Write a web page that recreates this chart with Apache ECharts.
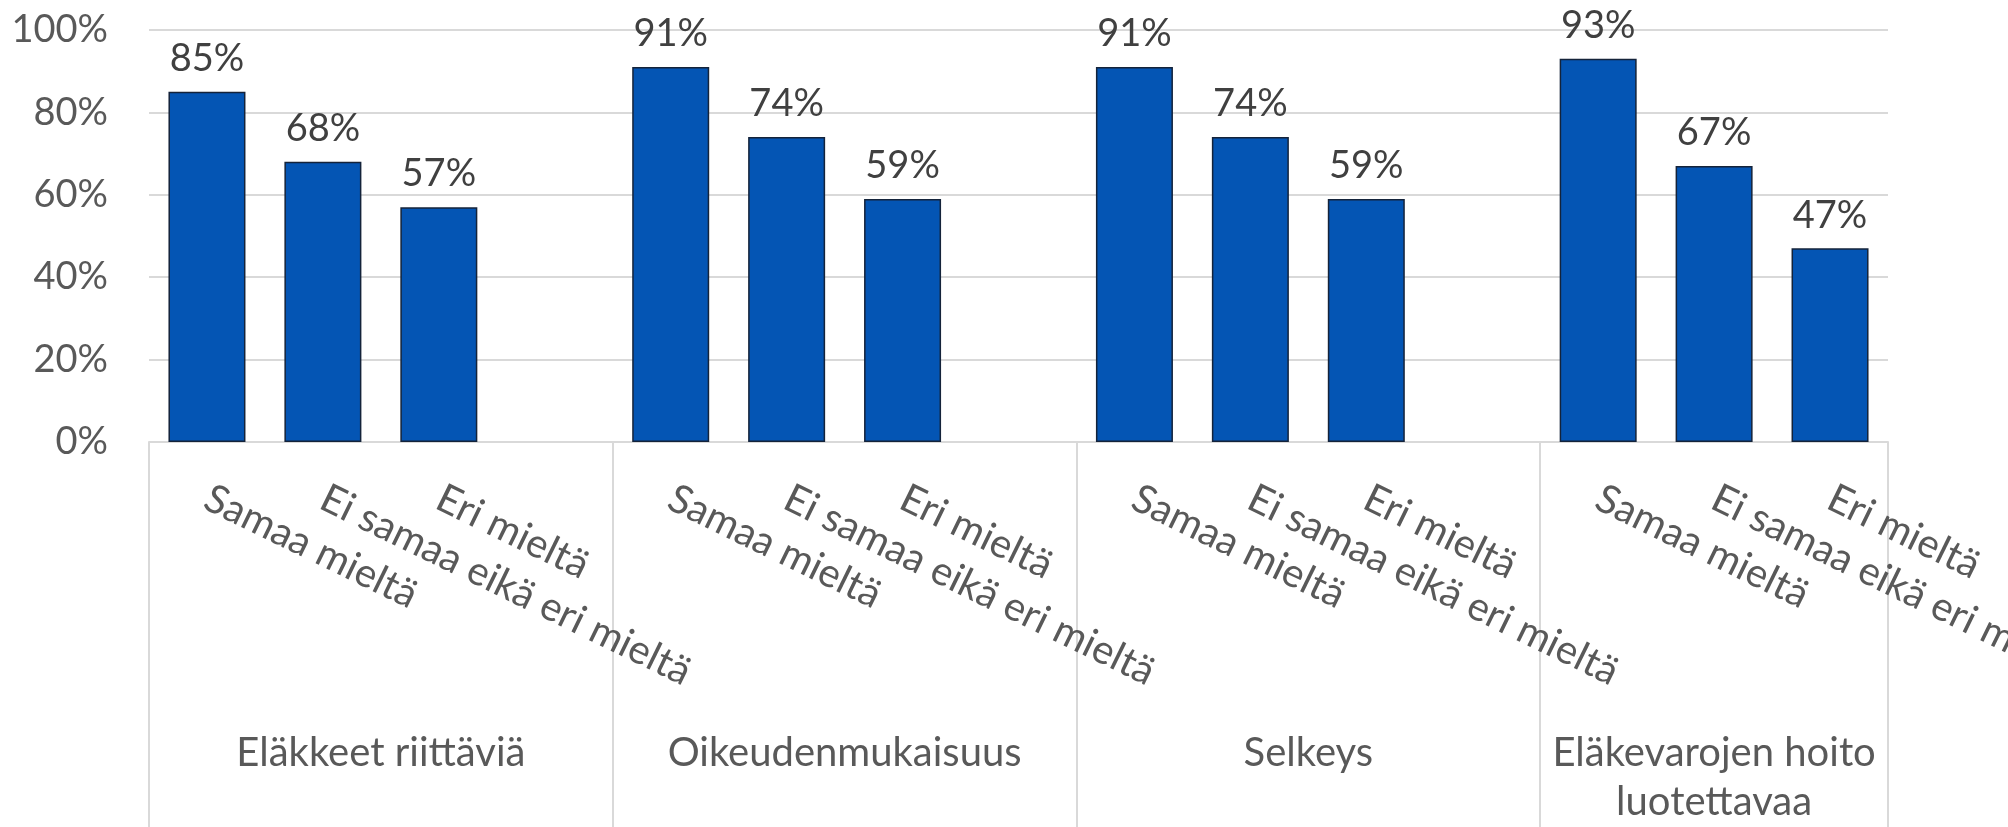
<!DOCTYPE html>
<html>
<head>
<meta charset="utf-8">
<script src="https://cdn.jsdelivr.net/npm/echarts@6/dist/echarts.min.js"></script>
<style>
  html, body { margin: 0; padding: 0; background: #fff; }
  #chart { width: 2008px; height: 827px; }
</style>
</head>
<body>
<div id="chart"></div>
<script>
// group names (outer category level)
const groups = ['Eläkkeet riittäviä', 'Oikeudenmukaisuus', 'Selkeys', 'Eläkevarojen hoito\nluotettavaa'];
// answers (inner category level)
const answers = ['Samaa mieltä', 'Ei samaa eikä eri mieltä', 'Eri mieltä'];
// shares per group, %
const samaaMielta = [85, 91, 91, 93];
const eiSamaaEikaEri = [68, 74, 74, 67];
const eriMielta = [57, 59, 59, 47];
const yTicks = [0, 20, 40, 60, 80, 100];

// flatten into one category axis, with an empty slot after each group (last one is cut off)
const categories = [];
const values = [];
const groupStart = [];
groups.forEach((g, i) => {
  groupStart.push(categories.length);
  const vals = [samaaMielta[i], eiSamaaEikaEri[i], eriMielta[i]];
  answers.forEach((a, j) => {
    categories.push(a);
    values.push(vals[j]);
  });
  if (i < groups.length - 1) {
    categories.push('');
    values.push(null);
  }
});
const total = categories.length;
const groupEdges = groupStart.concat([total]);
const groupCenters = groups.map((g, i) => (groupEdges[i] + groupEdges[i + 1]) / 2);

const chart = echarts.init(document.getElementById('chart'));
const font = 'Lato';
const grey = '#d9d9d9';

const option = {
  animation: false,
  grid: {
    left: 149,
    right: 120,
    top: 30,
    bottom: 385,
    containLabel: false,
    outerBoundsMode: 'none'
  },
  xAxis: [
    {
      type: 'category',
      data: categories,
      axisLine: { show: true, lineStyle: { color: grey, width: 2 } },
      axisTick: { show: false },
      axisLabel: {
        interval: 0,
        rotate: -26,
        margin: 54,
        fontFamily: font,
        fontSize: 40,
        color: '#595959'
      },
      splitLine: { show: false }
    },
    {
      type: 'value',
      position: 'bottom',
      min: 0,
      max: total,
      axisLine: { show: false },
      axisTick: {
        show: true,
        inside: false,
        length: 400,
        customValues: groupEdges,
        lineStyle: { color: grey, width: 2 }
      },
      axisLabel: {
        show: true,
        customValues: groupCenters,
        formatter: (v) => {
          const i = groupCenters.indexOf(v);
          return i >= 0 ? groups[i] : '';
        },
        margin: 287,
        fontFamily: font,
        fontSize: 40,
        lineHeight: 49,
        color: '#595959',
        verticalAlign: 'top'
      },
      splitLine: { show: false }
    }
  ],
  yAxis: {
    type: 'value',
    min: yTicks[0],
    max: yTicks[yTicks.length - 1],
    interval: 20,
    axisLine: { show: false },
    axisTick: { show: false },
    axisLabel: {
      formatter: '{value}%',
      margin: 41,
      fontFamily: font,
      fontSize: 38,
      color: '#595959'
    },
    splitLine: { lineStyle: { color: grey, width: 2 } }
  },
  series: [
    {
      type: 'bar',
      xAxisIndex: 0,
      data: values,
      barWidth: 77,
      itemStyle: {
        color: '#0455b4',
        borderColor: '#14233a',
        borderWidth: 1.5
      },
      label: {
        show: true,
        position: 'top',
        distance: 14,
        formatter: (p) => p.value + '%',
        fontFamily: font,
        fontSize: 38,
        color: '#404040'
      }
    }
  ]
};

chart.setOption(option);
</script>
</body>
</html>
